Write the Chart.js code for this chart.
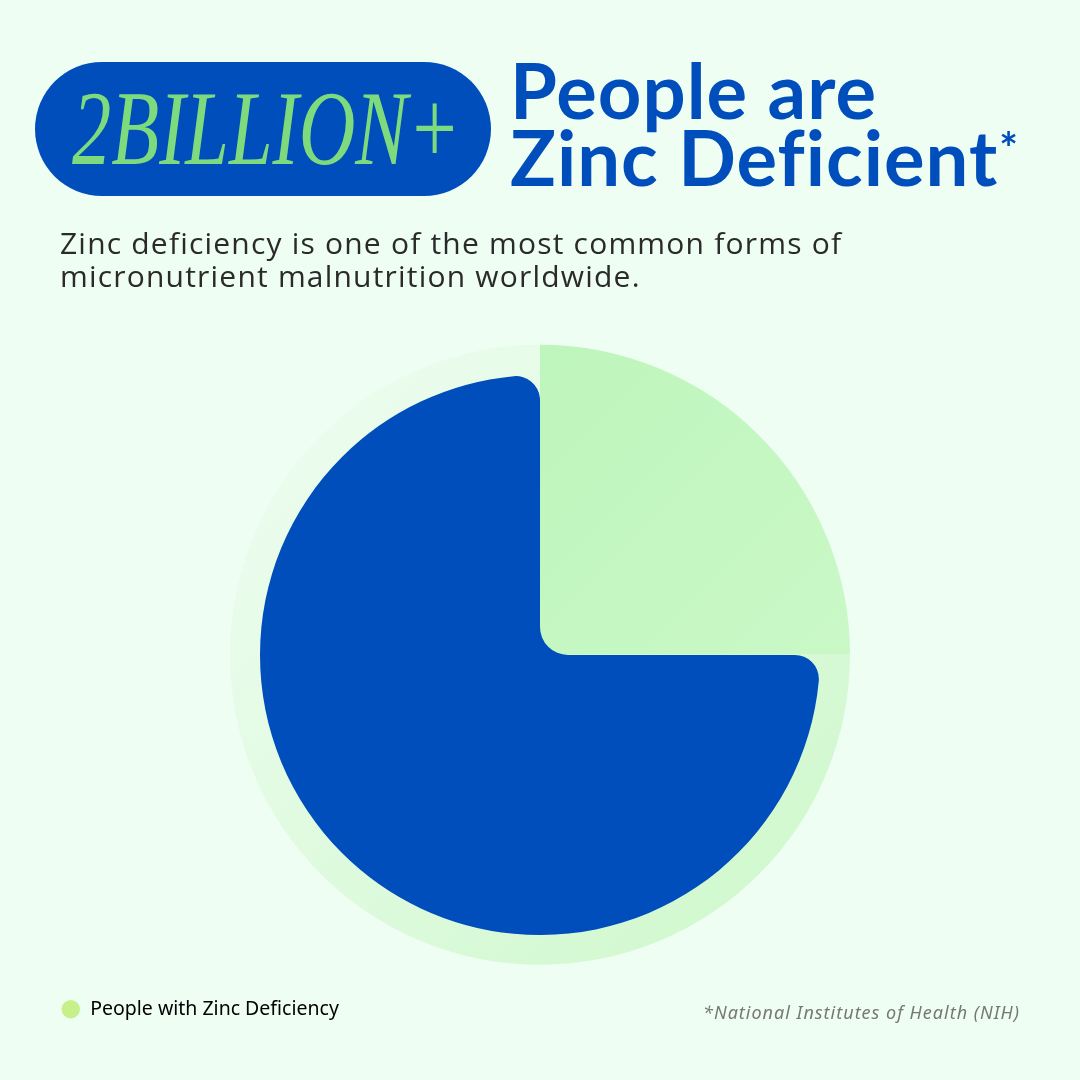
<!DOCTYPE html>
<html>
<head>
<meta charset="utf-8">
<script src="https://cdn.jsdelivr.net/npm/chart.js@4"></script>
<style>
  html, body { margin: 0; padding: 0; }
  body { width: 1080px; height: 1080px; background: #effef3; position: relative; overflow: hidden; }
  canvas { position: absolute; }
  #back { left: 0; top: 0; }
  #front { left: 230px; top: 345px; }
  .pill { position: absolute; left: 35px; top: 62px; width: 456px; height: 134px; border-radius: 67px; background: #004ebb; }
  .pill span { position: absolute; left: 37px; top: 14px; font: italic 106px "Liberation Serif", serif; line-height: 1; color: #7ddb7e; transform: scaleX(0.74); transform-origin: 0 0; white-space: nowrap; }
  .title { position: absolute; left: 510px; top: 56px; font: 700 76px "Lato", sans-serif; line-height: 67px; letter-spacing: 1px; color: #004ebb; white-space: nowrap; }
  .title sup { font-size: 44px; vertical-align: 22px; line-height: 0; margin-left: 1px; }
  .sub { position: absolute; left: 60px; top: 226px; font: 400 30px "Open Sans", sans-serif; line-height: 33px; letter-spacing: 1.2px; color: #2a2a2a; white-space: nowrap; }
  .note { position: absolute; right: 60px; top: 1000px; font: italic 18px "Noto Sans", sans-serif; letter-spacing: 1px; color: #777; }
</style>
</head>
<body>
<canvas id="back" width="1080" height="1080"></canvas>
<canvas id="front" width="620" height="620"></canvas>
<div class="pill"><span>2BILLION+</span></div>
<div class="title">People are<br>Zinc Deficient<sup>*</sup></div>
<div class="sub">Zinc deficiency is one of the most common forms of<br>micronutrient malnutrition worldwide.</div>
<div class="note">*National Institutes of Health (NIH)</div>
<script>
// share of world population (%)
const labels = ['People with Zinc Deficiency', 'Everyone Else'];
const shares = [25, 75];

const blue = '#004ebb';
const legendDot = '#c6f08a';

// diagonal gradient over the pie's bounding box
function diag(c, r, from, to) {
  const area = c.chart.chartArea;
  if (!area) return from;
  const cx = (area.left + area.right) / 2;
  const cy = (area.top + area.bottom) / 2;
  const g = c.chart.ctx.createLinearGradient(cx - r, cy - r, cx + r, cy + r);
  g.addColorStop(0, from);
  g.addColorStop(1, to);
  return g;
}

// back pie: green quarter + faint halo for the rest
new Chart(document.getElementById('back'), {
  type: 'pie',
  data: {
    labels: labels,
    datasets: [{
      data: shares,
      radius: 310,
      borderWidth: 0,
      backgroundColor: (c) => c.dataIndex === 0
        ? diag(c, 310, '#b9f4b8', '#cffacb')
        : diag(c, 310, '#f0fdf3', '#cdf8ca')
    }]
  },
  options: {
    responsive: false,
    animation: false,
    layout: { padding: { left: 51, right: 51, top: 320, bottom: 51 } },
    plugins: {
      tooltip: { enabled: false },
      legend: {
        position: 'bottom',
        align: 'start',
        labels: {
          usePointStyle: true,
          boxHeight: 13,
          padding: 10,
          color: '#333',
          font: { family: 'Noto Sans', size: 19.5 },
          generateLabels: (chart) => [{
            text: labels[0],
            fillStyle: legendDot,
            strokeStyle: legendDot,
            lineWidth: 0,
            pointStyle: 'circle',
            hidden: false,
            index: 0
          }]
        }
      }
    }
  }
});

// fills the small notch left by the rounded inner corner of the green quarter
const centerNotch = {
  id: 'centerNotch',
  afterDatasetsDraw(chart) {
    const arc = chart.getDatasetMeta(0).data[0];
    const r = 28;
    const ctx = chart.ctx;
    ctx.save();
    ctx.fillStyle = blue;
    ctx.beginPath();
    ctx.moveTo(arc.x, arc.y);
    ctx.lineTo(arc.x, arc.y - r);
    ctx.arc(arc.x + r, arc.y - r, r, Math.PI, Math.PI / 2, true);
    ctx.closePath();
    ctx.fill();
    ctx.restore();
  }
};

// front pie: blue three quarters with rounded ends
new Chart(document.getElementById('front'), {
  type: 'pie',
  data: {
    labels: labels,
    datasets: [{
      data: shares,
      radius: 280,
      borderWidth: 0,
      backgroundColor: ['rgba(0,0,0,0)', blue],
      borderRadius: (c) => c.dataIndex === 1 ? { outerStart: 24, outerEnd: 24 } : 0
    }]
  },
  options: {
    responsive: false,
    animation: false,
    layout: { padding: 0 },
    plugins: { legend: { display: false }, tooltip: { enabled: false } }
  },
  plugins: [centerNotch]
});
</script>
</body>
</html>
